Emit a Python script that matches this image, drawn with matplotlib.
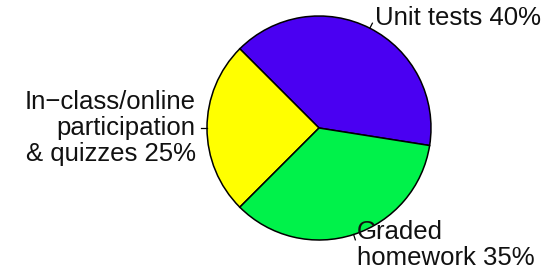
import numpy as np
import matplotlib
matplotlib.use("Agg")
import matplotlib.pyplot as plt

plt.rcParams['font.family'] = ['Liberation Sans', 'DejaVu Sans']

# Data
labels = ["Unit tests 40%", "In\u2212class/online\nparticipation\n& quizzes 25%",
          "Graded\nhomework 35%"]
values = [40, 25, 35]
colors = ["#4A00F2", "#FFFF00", "#00F24A"]

fig = plt.figure(figsize=(5.5, 2.77), dpi=100)
ax = fig.add_axes([0, 0, 1, 1])
ax.set_xlim(0, 550)
ax.set_ylim(0, 277)
ax.set_aspect('equal')
ax.axis('off')

cx, cy, r = 319, 277 - 128, 112
wedges, _ = ax.pie(values, colors=colors, startangle=-9, counterclock=True,
                   center=(cx, cy), radius=r, frame=True,
                   wedgeprops=dict(edgecolor='black', linewidth=1.1))
ax.set_xlim(0, 550)
ax.set_ylim(0, 277)
ax.axis('off')

# labels with short tick lines, like R's pie()
for w, lab in zip(wedges, labels):
    mid = np.deg2rad((w.theta1 + w.theta2) / 2)
    dx, dy = np.cos(mid), np.sin(mid)
    ax.plot([cx + r * dx, cx + 1.05 * r * dx], [cy + r * dy, cy + 1.05 * r * dy],
            color='black', lw=0.9)
    ha = 'left' if dx >= 0 else 'right'
    ax.text(cx + 1.1 * r * dx, cy + 1.1 * r * dy, lab, ha=ha, va='center',
            multialignment=ha, fontsize=18.5, linespacing=1.1, color='#111111')

fig.savefig("out.png", dpi=100)
